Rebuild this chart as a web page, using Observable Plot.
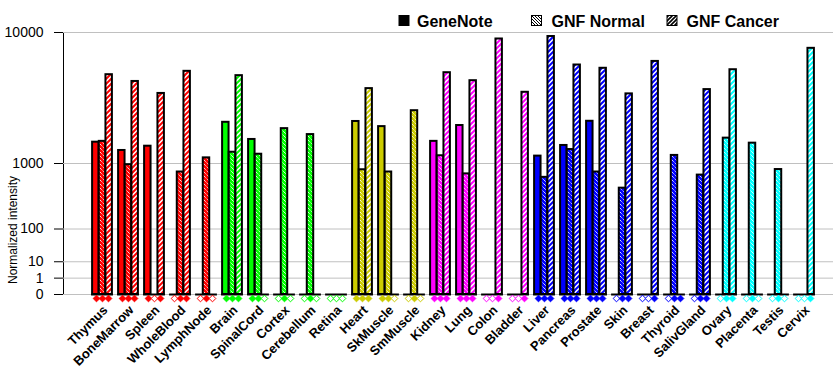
<!DOCTYPE html>
<html><head><meta charset="utf-8">
<script src="https://cdn.jsdelivr.net/npm/d3@7"></script>
<script src="https://cdn.jsdelivr.net/npm/@observablehq/plot@0.6"></script>
<style>body{margin:0;background:#fff} svg{display:block}</style>
</head><body><div id="chart"></div>
<script>
const tissues = ["Thymus","BoneMarrow","Spleen","WholeBlood","LymphNode","Brain","SpinalCord","Cortex","Cerebellum","Retina","Heart","SkMuscle","SmMuscle","Kidney","Lung","Colon","Bladder","Liver","Pancreas","Prostate","Skin","Breast","Thyroid","SalivGland","Ovary","Placenta","Testis","Cervix"];
const systems = ["immune","immune","immune","immune","immune","neural","neural","neural","neural","neural","muscle","muscle","muscle","visceral","visceral","visceral","visceral","glandular","glandular","glandular","glandular","glandular","glandular","glandular","reproductive","reproductive","reproductive","reproductive"];
const geneNote  = [1650,1370,1510,0,0,2480,1750,0,0,0,2520,2280,0,1680,2330,0,0,1200,1535,2530,0,0,0,0,0,0,0,0];
const gnfNormal = [1680,970,0,800,1150,1315,1255,2190,1940,0,850,800,3080,1210,760,0,0,690,1400,800,500,0,1220,735,1800,1615,855,0];
const gnfCancer = [5580,5030,4150,5870,0,5500,0,0,0,0,4490,0,0,5750,5090,9200,4230,9500,6440,6140,4120,6780,0,4420,6010,0,0,8130];
const geneNoteCall  = [1,1,1,0,0,1,1,0,0,0,1,1,0,1,1,0,0,1,1,1,0,0,0,0,0,0,0,0];
const gnfNormalCall = [1,1,0,1,1,1,1,1,1,0,1,1,1,1,1,0,0,1,1,1,1,0,1,1,1,1,1,0];
const gnfCancerCall = [1,1,1,1,0,1,0,0,0,0,1,0,0,1,1,1,1,1,1,1,1,1,1,1,1,0,0,1];
const seriesNames = ["GeneNote","GNF Normal","GNF Cancer"];
const yTicks = [0,1,10,100,1000,10000];
const systemColors = {immune:"#ff0000", neural:"#00ff00", muscle:"#cccc00", visceral:"#ff00ff", glandular:"#0000ff", reproductive:"#00ffff"};

const seriesValues = [geneNote, gnfNormal, gnfCancer];
const seriesCalls = [geneNoteCall, gnfNormalCall, gnfCancerCall];
const rows = [];
tissues.forEach((t, i) => seriesNames.forEach((s, j) => rows.push({
  tissue: t, series: s, j, value: seriesValues[j][i], call: seriesCalls[j][i], color: systemColors[systems[i]]
})));

const fillFor = (j, color) => j === 0 ? color : `url(#p${j}-${color.slice(1)})`;
const insets = [[3.1, 16.45], [9.77, 9.78], [16.45, 3.1]];
const dxs = [-6, 0, 6];

const marks = [
  Plot.ruleY(yTicks, {stroke: "#c0c0c0", strokeWidth: 1}),
  ...[0, 1, 2].map(j => Plot.barY(rows.filter(r => r.j === j && r.value > 0), {
    x: "tissue", y: "value", fill: r => fillFor(j, r.color), stroke: "black", strokeWidth: 2,
    insetLeft: insets[j][0], insetRight: insets[j][1]
  })),
  Plot.tickY(tissues, {x: d => d, y: () => 0, stroke: "black", strokeWidth: 2, insetLeft: 2.1, insetRight: 2.1}),
  ...[0, 1, 2].map(j => Plot.dot(rows.filter(r => r.j === j), {
    x: "tissue", y: () => 0, dx: dxs[j], dy: 4, symbol: "diamond2", r: 3,
    fill: r => r.call ? r.color : "white", stroke: r => r.color, strokeWidth: 1
  })),
  Plot.text(tissues, {x: d => d, y: () => 0, text: d => d, rotate: -45, textAnchor: "end",
    dx: 3, dy: 13.5, fontSize: 13, fontWeight: "bold", fill: "black"})
];

const svg = Plot.plot({
  width: 840, height: 385,
  marginLeft: 63, marginRight: 7, marginTop: 32, marginBottom: 91,
  style: {fontFamily: "'Liberation Sans', Arial, sans-serif", fontSize: "14px", color: "black", background: "white"},
  x: {type: "band", domain: tissues, range: [85.9, 820.1], padding: 0, axis: null},
  y: {type: "pow", exponent: Math.log10(2), domain: [0, 10000], ticks: yTicks, tickFormat: d => String(d),
      tickSize: 9, tickPadding: 11, line: true, label: null},
  color: {type: "identity"},
  marks
});

const root = d3.select(svg);
const defs = root.insert("defs", ":first-child");
const patColors = Object.values(systemColors);
for (const c of patColors) {
  const id = c.slice(1);
  const p1 = defs.append("pattern").attr("id", `p1-${id}`).attr("patternUnits", "userSpaceOnUse").attr("width", 4).attr("height", 4);
  p1.append("rect").attr("width", 4).attr("height", 4).attr("fill", c);
  p1.append("path").attr("d", "M0,0L4,4M-1,3L1,5M3,-1L5,1").attr("stroke", "white").attr("stroke-width", 1).attr("stroke-dasharray", "1.2,0.8");
  const p2 = defs.append("pattern").attr("id", `p2-${id}`).attr("patternUnits", "userSpaceOnUse").attr("width", 5).attr("height", 5);
  p2.append("rect").attr("width", 5).attr("height", 5).attr("fill", "white");
  p2.append("path").attr("d", "M0,5L5,0M-1,1L1,-1M4,6L6,4").attr("stroke", c).attr("stroke-width", 2);
}
// legend icon patterns (black on white)
const l1 = defs.append("pattern").attr("id", "leg1").attr("patternUnits", "userSpaceOnUse").attr("width", 3).attr("height", 3);
l1.append("rect").attr("width", 3).attr("height", 3).attr("fill", "white");
l1.append("path").attr("d", "M0,0L3,3M-1,2L1,4M2,-1L4,1").attr("stroke", "black").attr("stroke-width", 1);
const l2 = defs.append("pattern").attr("id", "leg2").attr("patternUnits", "userSpaceOnUse").attr("width", 4).attr("height", 4);
l2.append("rect").attr("width", 4).attr("height", 4).attr("fill", "white");
l2.append("path").attr("d", "M0,4L4,0M-1,1L1,-1M3,5L5,3").attr("stroke", "black").attr("stroke-width", 1.6);

// legend
const legend = root.append("g").attr("font-family", "'Liberation Sans', Arial, sans-serif").attr("font-size", 16)
  .attr("font-weight", "bold").attr("text-anchor", "start");
const legendItems = [
  {name: seriesNames[0], fill: "#000000", sx: 399, tx: 417},
  {name: seriesNames[1], fill: "url(#leg1)", sx: 531.5, tx: 551.5},
  {name: seriesNames[2], fill: "url(#leg2)", sx: 667, tx: 686.5}
];
for (const it of legendItems) {
  legend.append("rect").attr("x", it.sx).attr("y", 15.5).attr("width", 10).attr("height", 10).attr("fill", it.fill).attr("stroke", "black").attr("stroke-width", 1);
  legend.append("text").attr("x", it.tx).attr("y", 26.5).attr("fill", "black").attr("text-anchor", "start").text(it.name);
}
// y label
root.append("text").attr("transform", "translate(17,230) rotate(-90)").attr("text-anchor", "middle")
  .attr("font-family", "'Liberation Sans', Arial, sans-serif").attr("font-size", 12).attr("fill", "black").text("Normalized intensity");

document.getElementById("chart").appendChild(svg);
</script>
</body></html>
